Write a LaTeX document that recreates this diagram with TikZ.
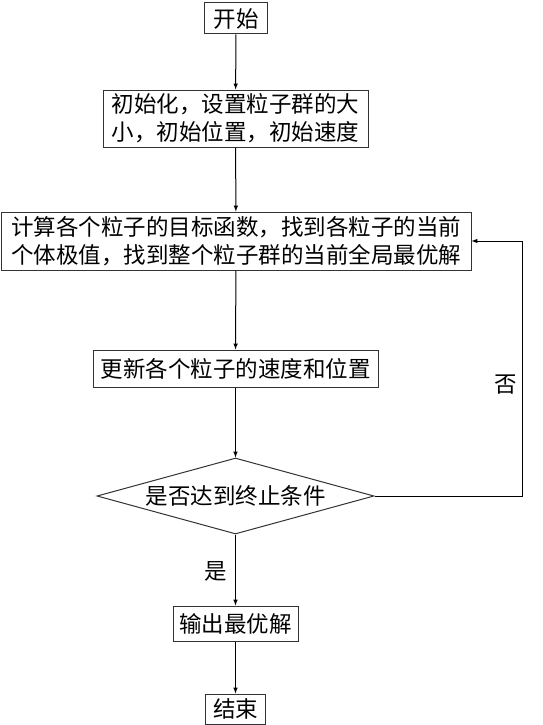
\documentclass[tikz,border=0pt]{standalone}
\usepackage{fontspec}
\newfontfamily\cjk{Noto Sans CJK SC}
\usetikzlibrary{positioning,shapes.geometric,arrows}

\begin{document}
\begin{tikzpicture}
    [x=1pt,y=-1pt,
    font=\cjk\fontsize{22.5}{28}\selectfont,
    box/.style={
        draw=black!80,
        line width=1pt,
        align=center,
        inner sep=1pt
    },
    decide/.style={
        draw=black!80,
        line width=1pt,
        diamond,
        aspect=3.6,
        inner sep=0pt,
        minimum width=277pt,
        minimum height=76pt
    },
    line/.style={draw, line width=1pt, -latex}
    ]
    \useasboundingbox[fill=white] (0,0) rectangle (542,725);

    \node[box, minimum width=63pt, minimum height=31pt] (start) at (236,18.5) {开始};
    \node[box, minimum width=265pt, minimum height=57pt] (init) at (235.5,118.5)
        {初始化，设置粒子群的大\\小，初始位置，初始速度};
    \node[box, minimum width=470pt, minimum height=58pt] (calc) at (236,241)
        {计算各个粒子的目标函数，找到各粒子的当前\\个体极值，找到整个粒子群的当前全局最优解};
    \node[box, minimum width=285pt, minimum height=37pt] (update) at (235.5,368.5)
        {更新各个粒子的速度和位置};
    \node[decide] (judge) at (235.5,496) {是否达到终止条件};
    \node[box, minimum width=125pt, minimum height=35pt] (output) at (235.5,623.5)
        {输出最优解};
    \node[box, minimum width=60pt, minimum height=30pt] (finish) at (235.5,709) {结束};

    % labels
    \node (no) at (506,385) {否};
    \node (yes) at (216,571) {是};

    \coordinate (turn) at (522,496);

    % arrows
    \draw[line] (start) -- (init);
    \draw[line] (init) -- (calc);
    \draw[line] (calc) -- (update);
    \draw[line] (update) -- (judge);
    \draw[line] (judge) -- (output);
    \draw[line] (output) -- (finish);
    \draw[line] (judge.east) -- (turn) |- (calc.east);
\end{tikzpicture}
\end{document}
